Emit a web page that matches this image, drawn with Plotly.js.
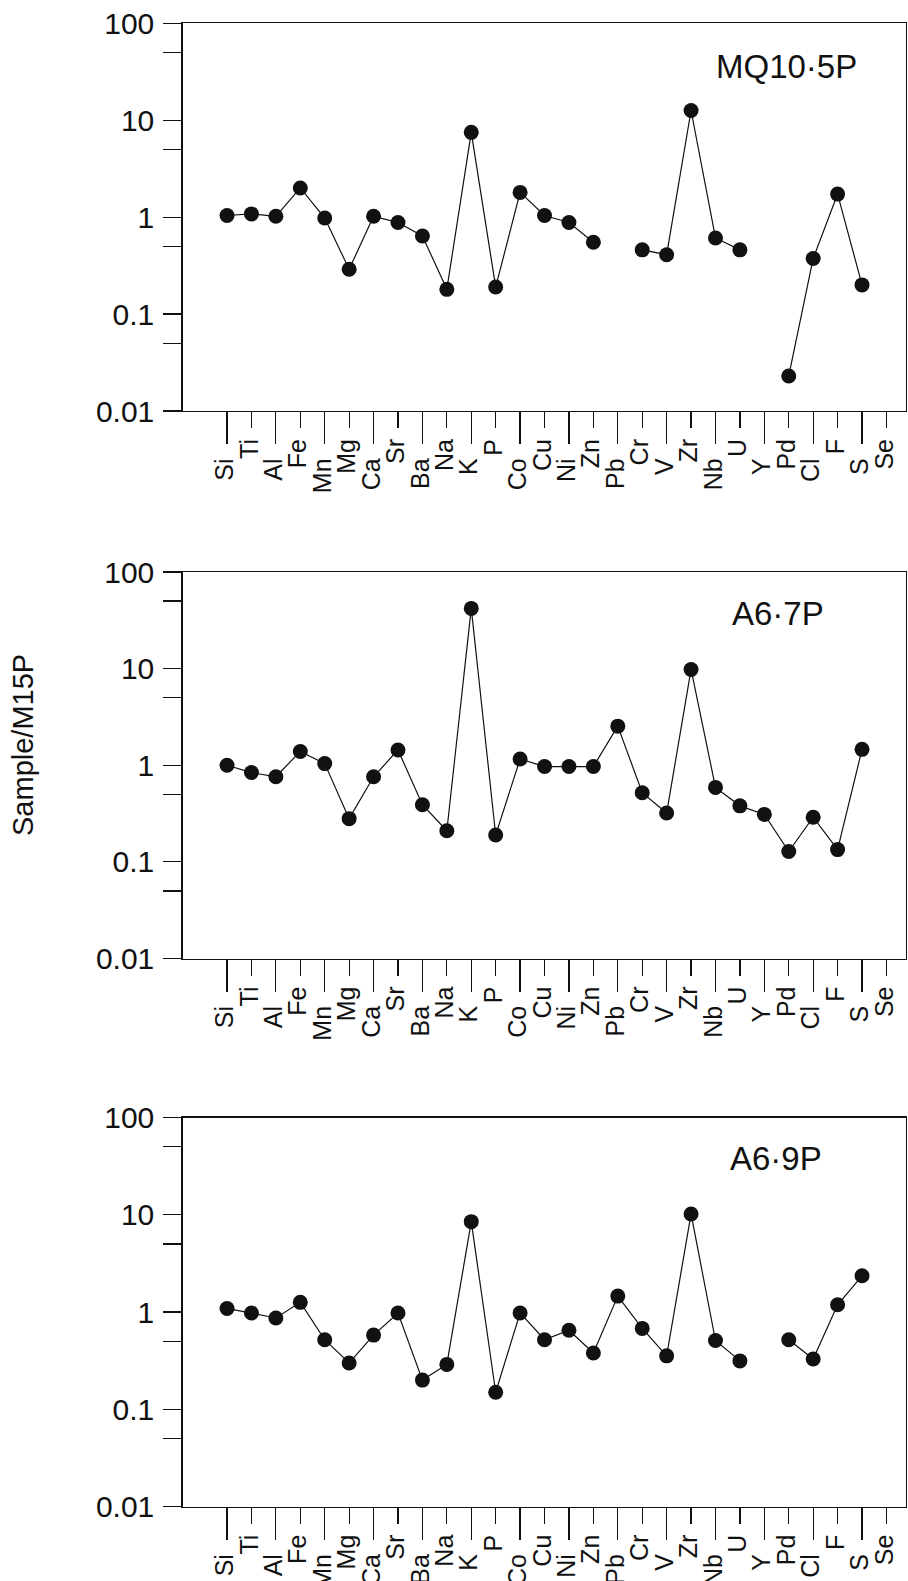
<!DOCTYPE html>
<html>
<head>
<meta charset="utf-8">
<script src="https://cdn.plot.ly/plotly-3.0.1.min.js"></script>
<style>
  html, body { margin: 0; padding: 0; background: #fff; }
  #chart { width: 908px; height: 1581px; }
</style>
</head>
<body>
<div id="chart"></div>
<script>
// Element order along the x axis
const elements = ['Si','Ti','Al','Fe','Mn','Mg','Ca','Sr','Ba','Na','K','P','Co','Cu','Ni','Zn','Pb','Cr','V','Zr','Nb','U','Y','Pd','Cl','F','S','Se'];

// Sample / M15P ratios (null = not determined)
const mq105p = [1.04, 1.08, 1.02, 2.0, 0.98, 0.29, 1.02, 0.88, 0.64, 0.18, 7.5, 0.19, 1.80, 1.04, 0.88, 0.55, null, 0.46, 0.41, 12.6, 0.61, 0.46, null, 0.023, 0.375, 1.73, 0.20, null];
const a67p   = [1.0, 0.84, 0.76, 1.39, 1.04, 0.28, 0.76, 1.44, 0.39, 0.21, 42, 0.19, 1.16, 0.97, 0.97, 0.97, 2.54, 0.52, 0.32, 9.8, 0.59, 0.38, 0.31, 0.128, 0.29, 0.134, 1.46, null];
const a69p   = [1.09, 0.98, 0.87, 1.26, 0.52, 0.30, 0.58, 0.98, 0.20, 0.29, 8.5, 0.15, 0.98, 0.52, 0.65, 0.38, 1.46, 0.68, 0.355, 10.2, 0.51, 0.315, null, 0.52, 0.33, 1.19, 2.36, null];

const sampleNames = ['MQ10\u00b75P', 'A6\u00b77P', 'A6\u00b79P'];
const sampleSeries = [mq105p, a67p, a69p];

// Log axis ticks: decades labelled, half-decades as unlabelled ticks
const yTickVals = [0.01, 0.05, 0.1, 0.5, 1, 5, 10, 50, 100];
const yTickText = ['0.01', '', '0.1', '', '1', '', '10', '', '100'];

// Reference level drawn as a dotted line
const unity = 1;

const W = 908, H = 1581;
const FONT = 'Liberation Sans, Arial, Helvetica, sans-serif';
const INK = '#111';

// Plot frames in pixels: [top, bottom]
const frames = [[23.3, 411], [572, 958.5], [1117.5, 1506.7]];
const xDomain = [182.7 / W, 905.5 / W];
const xRange = [-1.815, 27.78];
const labelPos = [[714, 66], [730, 613], [728, 1158]];

// Labels alternate between a near row and a far row
const farTicks = elements.filter((_, i) => i % 2 === 0);
const nearTicks = elements.filter((_, i) => i % 2 === 1);

const data = [];
const layout = {
  width: W, height: H,
  margin: {l: 0, r: 0, t: 0, b: 0, pad: 0},
  paper_bgcolor: '#fff', plot_bgcolor: '#fff',
  showlegend: false,
  font: {family: FONT, color: INK},
  shapes: [], annotations: []
};

sampleSeries.forEach((series, p) => {
  const yName = p === 0 ? 'y' : 'y' + (p + 1);
  const xMain = 'x' + (2 * p + 1 === 1 ? '' : 2 * p + 1);
  const xOver = 'x' + (2 * p + 2);
  const yKey = p === 0 ? 'yaxis' : 'yaxis' + (p + 1);
  const xMainKey = 'xaxis' + (2 * p + 1 === 1 ? '' : 2 * p + 1);
  const xOverKey = 'xaxis' + (2 * p + 2);

  data.push({
    type: 'scatter', mode: 'lines+markers',
    x: elements, y: series,
    xaxis: xMain, yaxis: yName,
    connectgaps: false,
    line: {color: INK, width: 1.2},
    marker: {color: INK, size: 15},
    hoverinfo: 'x+y'
  });
  // carries the category list for the second tick row
  data.push({
    type: 'scatter', mode: 'lines',
    x: elements, y: elements.map(() => null),
    xaxis: xOver, yaxis: yName,
    hoverinfo: 'skip', showlegend: false
  });

  const [top, bottom] = frames[p];
  layout[yKey] = {
    type: 'log', range: [-2, 2],
    domain: [1 - bottom / H, 1 - top / H],
    anchor: xMain,
    tickmode: 'array', tickvals: yTickVals, ticktext: yTickText,
    ticks: 'outside', ticklen: 18, tickwidth: 1.2, tickcolor: INK,
    tickfont: {size: 30, family: FONT, color: INK},
    ticklabelstandoff: 3,
    showline: true, linecolor: INK, linewidth: 1.4, mirror: true,
    showgrid: false, zeroline: false
  };
  const xCommon = {
    type: 'category', categoryorder: 'array', categoryarray: elements,
    range: xRange, domain: xDomain, anchor: yName,
    tickmode: 'array', tickangle: -90,
    ticks: 'outside', tickwidth: 1.2, tickcolor: INK,
    tickfont: {size: 25, family: FONT, color: INK},
    ticklabelshift: -2,
    showgrid: false, zeroline: false
  };
  layout[xMainKey] = Object.assign({}, xCommon, {
    tickvals: farTicks, ticktext: farTicks, ticklen: 32, ticklabelstandoff: 4,
    showline: true, linecolor: INK, linewidth: 1.4, mirror: true
  });
  layout[xOverKey] = Object.assign({}, xCommon, {
    overlaying: xMain,
    tickvals: nearTicks, ticktext: nearTicks, ticklen: 16, ticklabelstandoff: 1,
    showline: false
  });

  layout.shapes.push({
    type: 'line', xref: xMain + ' domain', yref: yName,
    x0: 0.008, x1: 1, y0: Math.log10(unity), y1: Math.log10(unity),
    line: {color: INK, width: 1.3, dash: '2px,7px'}
  });

  layout.annotations.push({
    text: sampleNames[p], showarrow: false,
    xref: 'paper', yref: 'paper',
    x: labelPos[p][0] / W, y: 1 - labelPos[p][1] / H,
    xanchor: 'left', yanchor: 'middle',
    font: {size: 33, family: FONT, color: INK}
  });
});

layout.annotations.push({
  text: 'Sample/M15P', showarrow: false, textangle: -90,
  xref: 'paper', yref: 'paper', x: 23 / W, y: 1 - 745 / H,
  xanchor: 'center', yanchor: 'middle',
  font: {size: 29, family: FONT, color: INK}
});

Plotly.newPlot('chart', data, layout, {staticPlot: true});
</script>
</body>
</html>
